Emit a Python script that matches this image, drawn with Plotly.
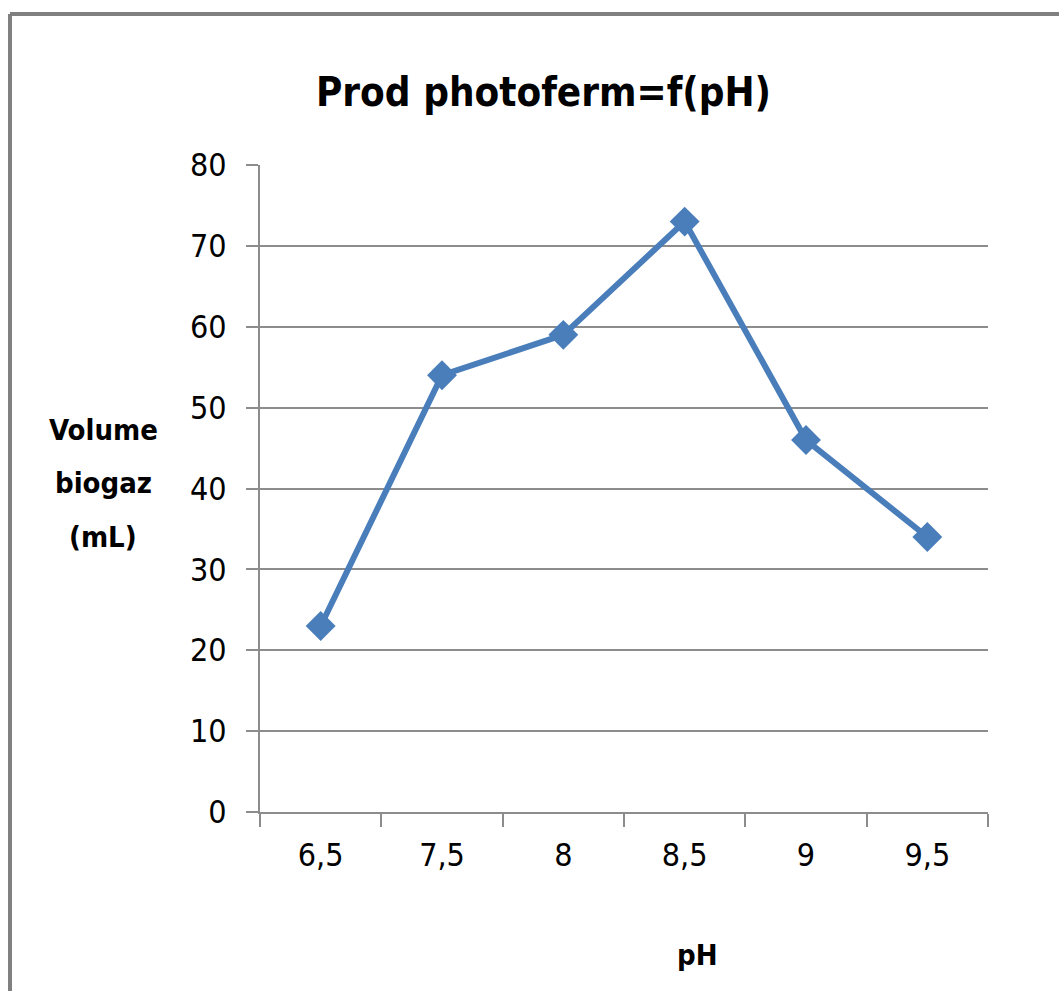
import plotly.graph_objects as go

categories = ["6,5", "7,5", "8", "8,5", "9", "9,5"]
volumes = [23, 54, 59, 73, 46, 34]
y_ticks = [0, 10, 20, 30, 40, 50, 60, 70, 80]

W, H = 1059, 991
L, R, T, B = 260, 988, 165, 812  # plot area in pixels

def px_x(p):
    return (p - L) / (R - L)

def px_y(p):
    return (B - p) / (B - T)

FONT = "Liberation Sans Narrow, DejaVu Sans Condensed, Open Sans, sans-serif"
GRID = "#8c8c8c"
BLUE = "#4a7ebb"

fig = go.Figure()
fig.add_trace(go.Scatter(
    x=categories, y=volumes, mode="lines+markers",
    line=dict(color=BLUE, width=6),
    marker=dict(symbol="diamond", size=23, color=BLUE),
    showlegend=False, hoverinfo="skip",
))

fig.update_layout(
    width=W, height=H,
    margin=dict(l=L, r=W - R, t=T, b=H - B),
    paper_bgcolor="white", plot_bgcolor="white",
    font=dict(family=FONT, color="#000000", size=32),
    showlegend=False,
    xaxis=dict(
        type="category", tickson="boundaries", showgrid=False,
        ticks="outside", ticklen=13, tickwidth=2, tickcolor=GRID,
        showline=True, linecolor=GRID, linewidth=2,
        tickfont=dict(size=32, family=FONT), ticklabelstandoff=14,
        range=[-0.5, 5.5],
    ),
    yaxis=dict(
        range=[0, 80], tickvals=y_ticks, showgrid=True, gridcolor=GRID, gridwidth=2,
        ticks="outside", ticklen=12, tickwidth=2, tickcolor=GRID,
        showline=True, linecolor=GRID, linewidth=2,
        tickfont=dict(size=32, family=FONT), ticklabelstandoff=13,
        zeroline=False,
    ),
)

ann = [
    ("<b>Prod photoferm=f(pH)</b>", 543, 92, 40),
    ("<b>Volume</b>", 103, 430, 29),
    ("<b>biogaz</b>", 103, 483, 29),
    ("<b>(mL)</b>", 103, 537, 29),
    ("<b>pH</b>", 697, 955, 29),
]
for text, x, y, s in ann:
    fig.add_annotation(text=text, xref="paper", yref="paper", x=px_x(x), y=px_y(y),
                       xanchor="center", yanchor="middle", showarrow=False,
                       font=dict(size=s, family=FONT, color="#000000"))

# outer chart border (top and left visible)
fig.add_shape(type="line", xref="paper", yref="paper",
              x0=px_x(10), x1=px_x(1070), y0=px_y(14), y1=px_y(14),
              line=dict(color="#808080", width=4))
fig.add_shape(type="line", xref="paper", yref="paper",
              x0=px_x(10), x1=px_x(10), y0=px_y(14), y1=px_y(1000),
              line=dict(color="#808080", width=4))

fig.write_html("out.html")
